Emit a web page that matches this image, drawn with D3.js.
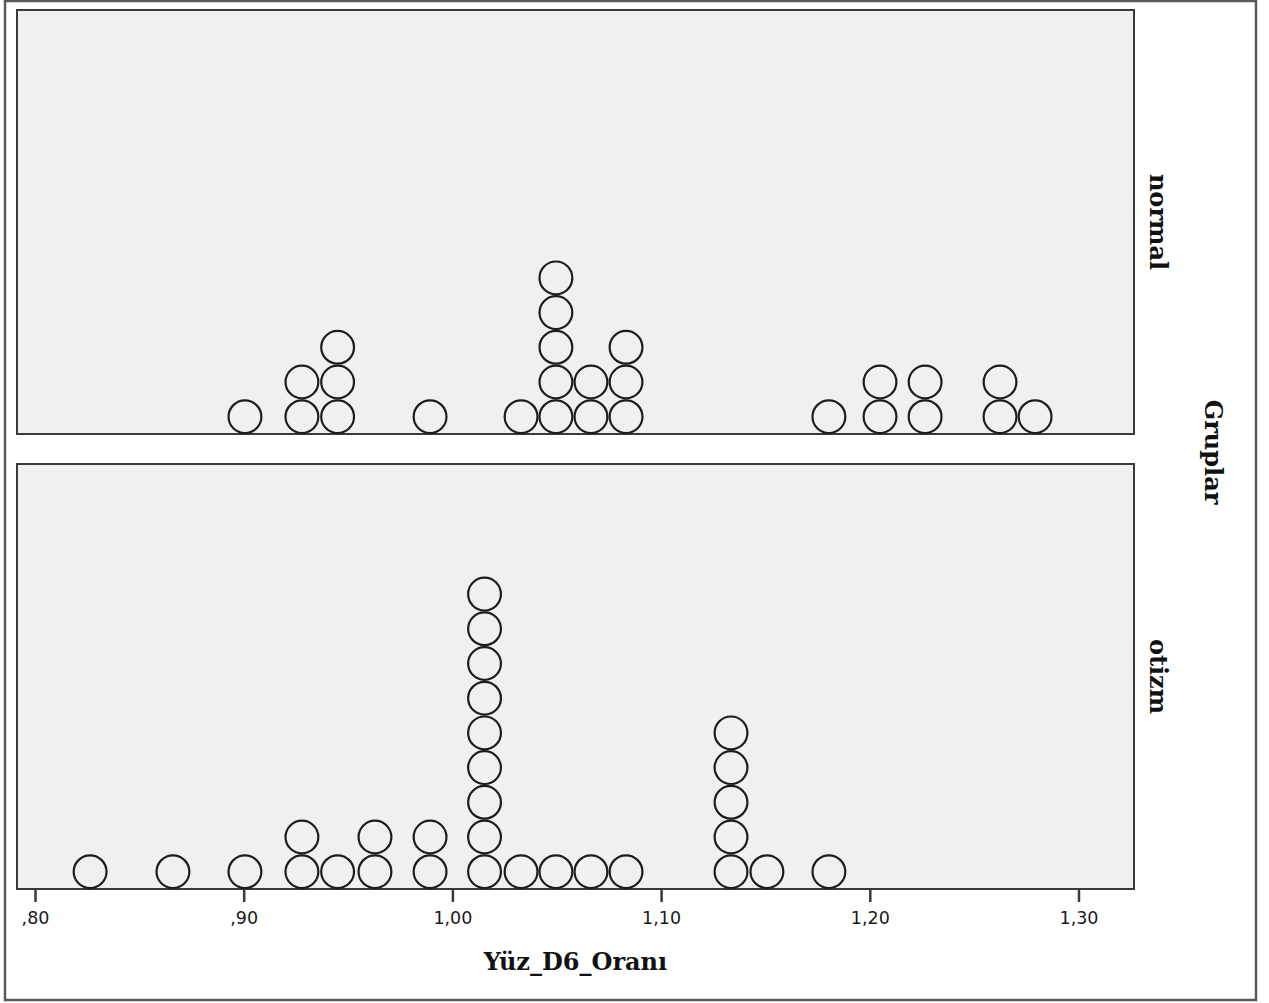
<!DOCTYPE html>
<html>
<head>
<meta charset="utf-8">
<script src="https://cdn.jsdelivr.net/npm/d3@7/dist/d3.min.js"></script>
<style>
  html, body { margin: 0; padding: 0; background: #ffffff; }
  svg { display: block; }
</style>
</head>
<body>
<script>
// Panel (facet) categories, top to bottom
const groups = ["normal", "otizm"];

// Individual observations of Yüz_D6_Oranı per group
const normalValues = [
  0.9006,
  0.9279, 0.9279,
  0.9450, 0.9450, 0.9450,
  0.9893,
  1.0329,
  1.0496, 1.0496, 1.0496, 1.0496, 1.0496,
  1.0664, 1.0664,
  1.0832, 1.0832, 1.0832,
  1.1804,
  1.2049, 1.2049,
  1.2265, 1.2265,
  1.2624, 1.2624,
  1.2792
];
const otizmValues = [
  0.8264,
  0.8661,
  0.9006,
  0.9279, 0.9279,
  0.9450,
  0.9629, 0.9629,
  0.9893, 0.9893,
  1.0154, 1.0154, 1.0154, 1.0154, 1.0154, 1.0154, 1.0154, 1.0154, 1.0154,
  1.0329,
  1.0496,
  1.0664,
  1.0832,
  1.1335, 1.1335, 1.1335, 1.1335, 1.1335,
  1.1507,
  1.1804
];

// Axis ticks and titles
const tickValues = [0.80, 0.90, 1.00, 1.10, 1.20, 1.30];
const xTitle = "Yüz_D6_Oranı";
const facetTitle = "Gruplar";

const W = 1269, H = 1003;
const svg = d3.select("body").append("svg")
  .attr("width", W).attr("height", H);

// Outer frame
svg.append("rect")
  .attr("x", 5).attr("y", 1)
  .attr("width", 1251).attr("height", 999)
  .attr("fill", "#ffffff")
  .attr("stroke", "#5a5a5a").attr("stroke-width", 2.5);

const panelLeft = 17, panelRight = 1134;
const panels = [
  { name: groups[0], top: 10, bottom: 434, values: normalValues },
  { name: groups[1], top: 464, bottom: 889, values: otizmValues }
];

const x = d3.scaleLinear().domain([0.8, 1.3]).range([35, 1078.5]);

const dotR = 16.4;
const step = 34.7;

// Comma decimal, leading zero dropped (",80", "1,00")
const fmt = v => d3.format(".2f")(v).replace(".", ",").replace(/^0/, "");

panels.forEach(p => {
  const g = svg.append("g");
  g.append("rect")
    .attr("x", panelLeft).attr("y", p.top)
    .attr("width", panelRight - panelLeft).attr("height", p.bottom - p.top)
    .attr("fill", "#f0f0f0")
    .attr("stroke", "#3a3a3a").attr("stroke-width", 2);

  // stack index -> vertical center
  const y = d3.scaleLinear()
    .domain([0, 1])
    .range([p.bottom - 17.3, p.bottom - 17.3 - step]);

  const stacks = d3.groups(p.values, v => v.toFixed(4));
  const dots = [];
  stacks.forEach(([key, arr]) => {
    arr.forEach((v, i) => dots.push({ v, i }));
  });

  g.selectAll("circle")
    .data(dots)
    .join("circle")
    .attr("cx", d => x(d.v))
    .attr("cy", d => y(d.i))
    .attr("r", dotR)
    .attr("fill", "none")
    .attr("stroke", "#1c1c1c")
    .attr("stroke-width", 2.2);

  // Facet label on the right, reading top to bottom
  const cy = (p.top + p.bottom) / 2;
  svg.append("text")
    .attr("transform", `translate(1150,${cy}) rotate(90)`)
    .attr("text-anchor", "middle")
    .attr("font-family", "DejaVu Serif")
    .attr("font-weight", "bold")
    .attr("font-size", 24)
    .attr("fill", "#111")
    .text(p.name);
});

// X axis along the bottom panel
const axis = d3.axisBottom(x)
  .tickValues(tickValues)
  .tickFormat(fmt)
  .tickSize(13)
  .tickSizeOuter(0)
  .tickPadding(10);

const axG = svg.append("g")
  .attr("transform", `translate(0,${panels[1].bottom})`)
  .call(axis);
axG.select(".domain").remove();
axG.selectAll(".tick line")
  .attr("stroke", "#3a3a3a").attr("stroke-width", 2.5);
axG.selectAll(".tick text")
  .attr("font-family", "DejaVu Sans")
  .attr("font-size", 17.5)
  .attr("fill", "#1a1a1a");

// Axis title
svg.append("text")
  .attr("x", (panelLeft + panelRight) / 2)
  .attr("y", 970)
  .attr("text-anchor", "middle")
  .attr("font-family", "DejaVu Serif")
  .attr("font-weight", "bold")
  .attr("font-size", 24)
  .attr("fill", "#111")
  .text(xTitle);

// Facet variable title
svg.append("text")
  .attr("transform", `translate(1205,452) rotate(90)`)
  .attr("text-anchor", "middle")
  .attr("font-family", "DejaVu Serif")
  .attr("font-weight", "bold")
  .attr("font-size", 24)
  .attr("fill", "#111")
  .text(facetTitle);
</script>
</body>
</html>
